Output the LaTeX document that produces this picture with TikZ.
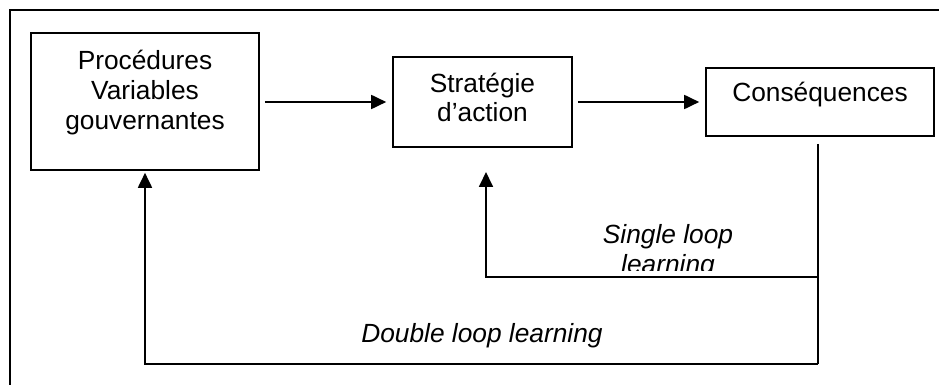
\documentclass[tikz,border=0pt]{standalone}
\usepackage{fontspec}
\setmainfont{Liberation Sans}
\usetikzlibrary{arrows.meta}

\begin{document}
\begin{tikzpicture}[x=0.5pt, y=-0.5pt, >={Triangle[length=7.5pt,width=7pt]},
  box/.style={draw, line width=0.8pt, inner sep=0pt},
  txt/.style={align=center, inner sep=0pt, font=\fontsize{13.15pt}{14.9pt}\selectfont},
  itxt/.style={txt, font=\fontsize{13.15pt}{14.9pt}\selectfont\itshape},
  link/.style={line width=0.9pt}]
\useasboundingbox (0,0) rectangle (939,385);
% open frame round the figure
\draw[line width=1.1pt] (10,395) -- (10,10) -- (950,10);
% the three boxes
\node[box, minimum width=114pt, minimum height=68.5pt] (proc) at (145,101.5) {};
\node[box, minimum width=89.5pt, minimum height=45pt] (strat) at (482.5,102) {};
\node[box, minimum width=114pt, minimum height=34pt] (cons) at (820,102) {};
\node[txt] (proctxt) at (145,92.5) {Procédures\\Variables\\gouvernantes};
\node[txt] (strattxt) at (482.5,97.5) {Stratégie\\d’action};
\node[txt, anchor=base] (constxt) at (820,101.5) {Conséquences};
% forward arrows
\draw[link, ->, shorten <=2.5pt, shorten >=3pt] (proc.east |- strat.west) -- (strat.west);
\draw[link, ->, shorten <=2.5pt, shorten >=3pt] (strat.east) -- (cons.west);
% feedback loops
\coordinate (tap) at (818,144);
\coordinate (sl) at (818,277);
\coordinate (dl) at (818,364);
\coordinate (slend) at (486,172);
\draw[link] (tap) -- (dl);
\draw[link, ->] (sl) -| (slend);
\draw[link, ->, shorten >=1pt] (dl) -| (proc.south);
\node[itxt, anchor=base] (double) at (482,343) {Double loop learning};
\begin{scope}
\clip (560,200) rectangle (800,271);
\node[itxt, anchor=north] (single) at (668,224) {Single loop\\learning};
\end{scope}
\end{tikzpicture}
\end{document}
